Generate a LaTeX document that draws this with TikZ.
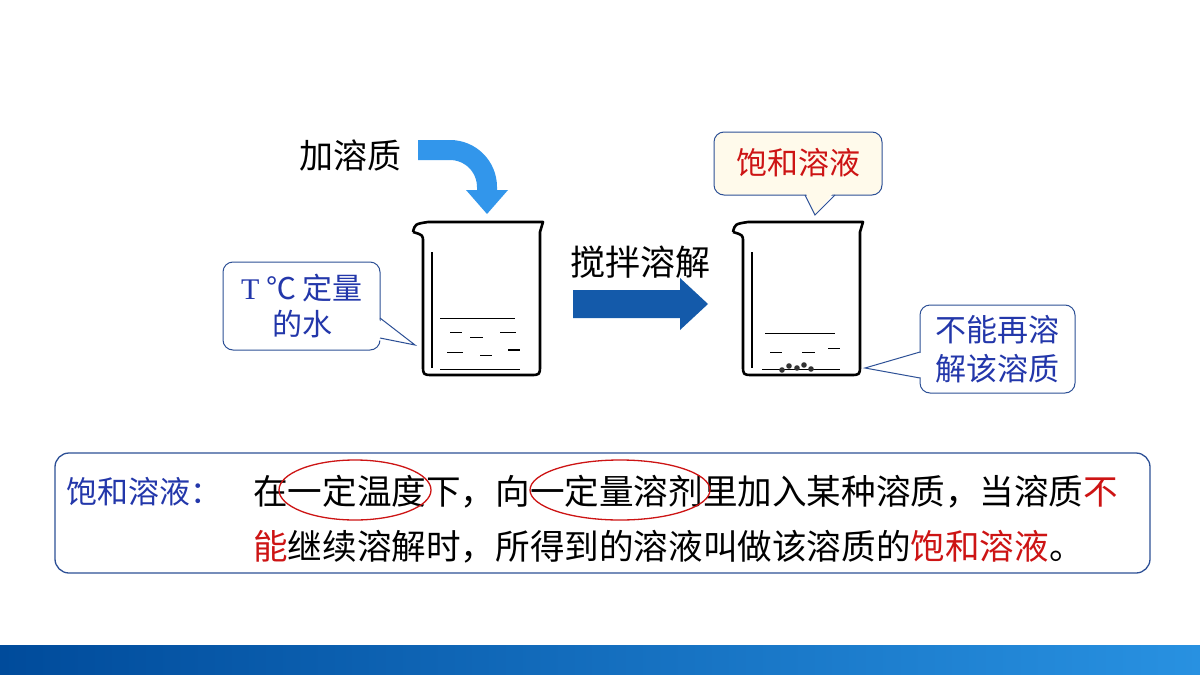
\documentclass[tikz,border=0pt]{standalone}
\usepackage{fontspec}
\setmainfont{Noto Sans CJK SC}
\newfontfamily\serifT{Liberation Serif}
\usetikzlibrary{positioning}
\definecolor{txtblue}{RGB}{35,55,170}
\definecolor{boxline}{RGB}{45,80,150}
\definecolor{lightarr}{RGB}{50,150,235}
\definecolor{darkarr}{RGB}{20,90,170}
\definecolor{cream}{RGB}{255,250,235}
\definecolor{ered}{RGB}{205,20,20}
\definecolor{barL}{RGB}{0,75,155}
\definecolor{barR}{RGB}{40,145,225}
\tikzset{
  callout/.style={draw=boxline,line width=1pt,rounded corners=10pt},
  beaker/.style={line width=2.6pt,line join=round},
  liquid/.style={line width=1pt},
  bigtxt/.style={inner sep=0pt,anchor=west,font=\fontsize{34.6}{44}\selectfont}
}
\begin{document}
\begin{tikzpicture}[x=1pt,y=-1pt]
\useasboundingbox (0,0) rectangle (1200,675);
\fill[white] (0,0) rectangle (1200,675);
\shade[left color=barL,right color=barR] (0,645) rectangle (1200,675);

% adding solute
\node (add) at (350,155) {\fontsize{34}{40}\selectfont 加溶质};
\draw[lightarr,line width=20pt] (418,150) -- (450,150) arc[start angle=-90,end angle=0,radius=37] -- (487,192);
\fill[lightarr] (466,190) -- (508,190) -- (487,214) -- cycle;

% beakers
\foreach \dx/\name in {0/bk1,320/bk2}{
  \begin{scope}[xshift=\dx]
    \draw[beaker] (413,232) .. controls (415,224) .. (428,222) -- (543,222)
      -- (540,232) -- (540,365) .. controls (540,375) .. (530,375) -- (433,375)
      .. controls (423,375) .. (423,365) -- (423,242) .. controls (423,235) .. (413,232);
    \draw[line width=1.5pt] (432,252) -- (432,368);
    \coordinate (\name) at (482,300);
  \end{scope}
}
% water in beaker 1
\draw[liquid] (440,318) -- (515,318);
\draw[liquid] (450,332) -- (462,332) (470,337) -- (483,337) (500,332) -- (516,332);
\draw[liquid] (447,352) -- (463,352) (480,355) -- (492,355);
\draw[line width=1.8pt] (508,350) -- (520,350);
\draw[liquid] (440,369) -- (520,369);
% solution in beaker 2
\draw[liquid] (765,333) -- (835,333);
\draw[liquid] (770,352) -- (782,352) (802,352) -- (815,352) (828,348) -- (840,348);
\draw[liquid] (762,369) -- (840,369);
\foreach \px/\py in {782/370,789/366,797/368,804/365,811/369}{
  \fill[black!80] (\px,\py) circle (2.8);
}

% callouts
\draw[callout,fill=white] (223,262) rectangle (380,350);
\fill[white] (376,318) -- (415,345) -- (376,340) -- cycle;
\draw[boxline,line width=1pt] (380,318) -- (415,345) -- (380,338);
\node[txtblue,align=center,font=\fontsize{30}{36}\selectfont] (water) at (302,306) {{\serifT T} ℃ 定量\\的水};

\draw[callout,fill=cream] (714,132) rectangle (882,195);
\fill[cream] (805,191) -- (815,215) -- (835,191) -- cycle;
\draw[boxline,line width=1pt] (805,195) -- (815,215) -- (835,195);
\node[ered,font=\fontsize{31}{36}\selectfont] (sat) at (798,163) {饱和溶液};

\draw[callout,fill=white] (920,305) rectangle (1075,393);
\fill[white] (924,352) -- (865,368) -- (924,378) -- cycle;
\draw[boxline,line width=1pt] (920,352) -- (865,368) -- (920,378);
\node[txtblue,align=center,font=\fontsize{31}{39}\selectfont] (nodis) at (997,349) {不能再溶\\解该溶质};

% stirring arrow
\node (stir) at (640,262) {\fontsize{35}{40}\selectfont 搅拌溶解};
\fill[darkarr] (573,290) -- (680,290) -- (680,278) -- (708,304) -- (680,330) -- (680,318) -- (573,318) -- cycle;

% definition box
\draw[boxline,line width=1.3pt,rounded corners=14pt] (55,453) rectangle (1150,573);
\node[bigtxt,txtblue,font=\fontsize{31}{40}\selectfont] (term) at (66,492) {饱和溶液：};
\node[bigtxt] (line1) at (253,492) {在一定温度下，向一定量溶剂里加入某种溶质，当溶质\textcolor{ered}{不}};
\node[bigtxt] (line2) at (253,547) {\textcolor{ered}{能}继续溶解时，所得到的溶液叫做该溶质的\textcolor{ered}{饱和溶液}。};
\draw[ered,line width=1.3pt] (355,490) ellipse[x radius=76,y radius=30];
\draw[ered,line width=1.3pt] (620,490) ellipse[x radius=90,y radius=30];
\end{tikzpicture}
\end{document}
